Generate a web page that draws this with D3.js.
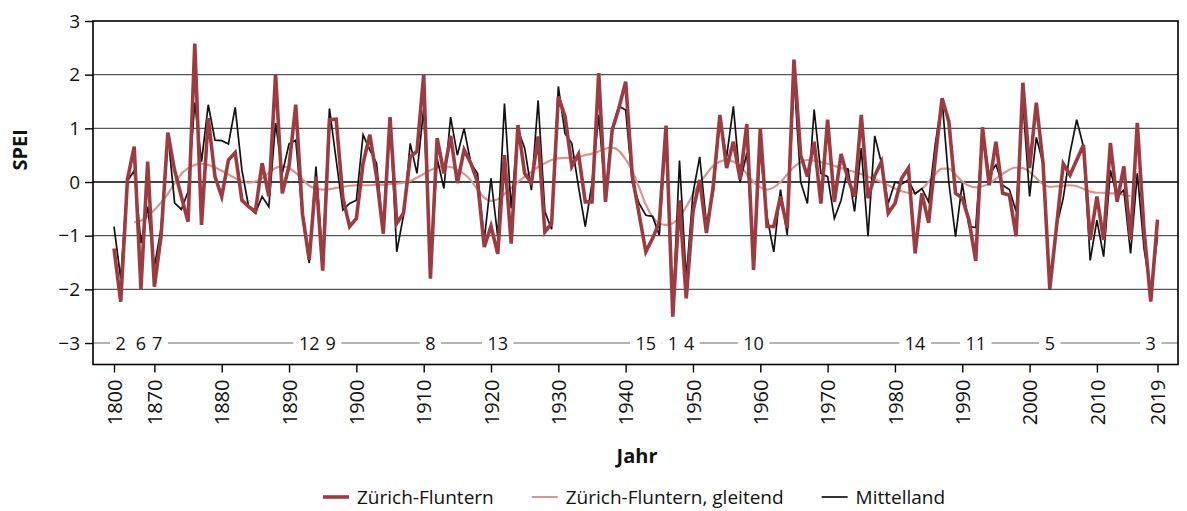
<!DOCTYPE html>
<html>
<head>
<meta charset="utf-8">
<script src="https://cdn.jsdelivr.net/npm/d3@7/dist/d3.min.js"></script>
<style>
  html, body { margin: 0; padding: 0; background: #fff; }
  svg { display: block; font-family: "Open Sans", "Noto Sans", sans-serif; }
</style>
</head>
<body>
<svg id="chart" width="1187" height="511"></svg>
<script>
// ---------- DATA ----------
const firstYear = 1864;
const lastYear = 2019;

// SPEI Zürich-Fluntern, 1864–2019
const zurich = [
  -1.24, -2.23, 0.05, 0.66, -1.99, 0.38, -1.95, -1.00, 0.92, 0.22,   // 1864-1873
  -0.27, -0.74, 2.58, -0.80, 1.19, 0.10, -0.27, 0.41, 0.55, -0.34,    // 1874-1883
  -0.46, -0.55, 0.35, -0.27, 2.01, -0.21, 0.30, 1.44, -0.60, -1.45,   // 1884-1893
  0.10, -1.65, 1.16, 1.17, -0.30, -0.83, -0.68, 0.35, 0.88, 0.10,     // 1894-1903
  -0.96, 1.21, -0.77, -0.58, 0.47, 0.57, 2.00, -1.80, 0.82, 0.16,     // 1904-1913
  0.86, -0.02, 0.60, 0.35, 0.00, -1.21, -0.82, -1.34, 0.50, -1.15,    // 1914-1923
  1.06, 0.16, -0.02, 0.85, -0.93, -0.77, 1.59, 1.22, 0.29, 0.52,      // 1924-1933
  -0.37, -0.37, 2.03, -0.37, 0.97, 1.38, 1.87, 0.10, -0.60, -1.30,    // 1934-1943
  -1.05, -0.75, 1.05, -2.51, -0.34, -2.17, -0.55, 0.04, -0.95, -0.09, // 1944-1953
  1.25, 0.26, 0.75, 0.05, 1.08, -1.64, 1.00, -0.83, -0.83, -0.27,     // 1954-1963
  -0.86, 2.28, 0.50, 0.10, 0.75, -0.40, 1.16, -0.37, 0.52, 0.07,      // 1964-1973
  -0.27, 1.25, -0.30, 0.12, 0.38, -0.58, -0.40, 0.07, 0.26, -1.33,    // 1974-1983
  -0.21, -0.76, 0.44, 1.56, 1.13, -0.21, -0.30, -0.71, -1.47, 1.02,   // 1984-1993
  -0.06, 0.75, -0.21, -0.24, -1.01, 1.85, 0.26, 1.48, 0.35, -1.99,    // 1994-2003
  -0.83, 0.34, 0.13, 0.41, 0.69, -1.08, -0.27, -1.08, 0.73, -0.37,    // 2004-2013
  0.29, -1.08, 1.10, -0.90, -2.23, -0.70                              // 2014-2019
];

// SPEI Mittelland, 1864–2019
const mittelland = [
  -0.83, -1.80, 0.02, 0.21, -1.14, -0.46, -1.58, -0.86, 0.91, -0.39,  // 1864-1873
  -0.51, -0.18, 1.48, 0.38, 1.44, 0.78, 0.77, 0.71, 1.39, 0.22,       // 1874-1883
  -0.46, -0.58, -0.27, -0.46, 1.10, 0.16, 0.71, 0.78, -0.65, -1.51,   // 1884-1893
  0.29, -1.48, 1.37, 0.41, -0.52, -0.40, -0.34, 0.88, 0.60, 0.35,     // 1894-1903
  -0.96, 1.21, -1.30, -0.62, 0.72, 0.16, 1.37, -1.64, 0.44, -0.12,    // 1904-1913
  1.21, 0.50, 1.00, 0.35, 0.16, -1.08, 0.07, -1.02, 1.46, -0.49,      // 1914-1923
  0.98, 0.63, -0.15, 1.52, -0.55, -0.88, 1.78, 0.90, 0.72, -0.09,     // 1924-1933
  -0.83, -0.02, 1.25, -0.27, 1.00, 1.41, 1.34, -0.02, -0.40, -0.62,   // 1934-1943
  -0.64, -0.99, 0.95, -2.39, 0.40, -1.80, -0.21, 0.47, -0.77, -0.21,  // 1944-1953
  1.16, 0.47, 1.41, 0.00, 0.54, -1.39, 0.60, -0.65, -1.30, -0.14,     // 1954-1963
  -0.99, 1.97, 0.00, -0.40, 1.35, 0.16, 0.10, -0.68, -0.34, 0.26,     // 1964-1973
  -0.55, 0.63, -1.01, 0.86, 0.35, -0.40, 0.00, -0.04, 0.04, -0.22,    // 1974-1983
  -0.12, -0.37, 0.72, 1.53, 0.00, -1.02, -0.02, -0.83, -0.85, 0.94,   // 1984-1993
  0.13, 0.32, -0.06, -0.14, -0.55, 1.50, -0.27, 0.83, 0.35, -2.00,    // 1994-2003
  -0.83, -0.30, 0.54, 1.16, 0.66, -1.46, -0.71, -1.39, 0.22, -0.27,   // 2004-2013
  -0.15, -1.33, 0.16, -1.24, -2.05, -1.02                             // 2014-2019
];

// Zürich-Fluntern, gleitend (smoothed), 1867–2015
const smoothFirstYear = 1867;
const zurichSmooth = [
  -0.75, -0.72, -0.64, -0.52, -0.38, -0.22, -0.02, 0.15, 0.26, 0.32,  // 1867-1876
  0.34, 0.32, 0.27, 0.21, 0.14, 0.07, 0.02, -0.01, 0.01, 0.07,        // 1877-1886
  0.17, 0.26, 0.29, 0.26, 0.17, 0.05, -0.07, -0.12, -0.14, -0.13,     // 1887-1896
  -0.11, -0.09, -0.07, -0.06, -0.06, -0.06, -0.05, -0.05, -0.04, -0.03, // 1897-1906
  -0.01, 0.02, 0.08, 0.15, 0.22, 0.27, 0.29, 0.28, 0.23, 0.15,        // 1907-1916
  0.03, -0.14, -0.29, -0.35, -0.32, -0.22, -0.11, 0.00, 0.10, 0.19,   // 1917-1926
  0.28, 0.35, 0.41, 0.44, 0.45, 0.45, 0.47, 0.50, 0.53, 0.57,         // 1927-1936
  0.62, 0.64, 0.58, 0.42, 0.20, -0.10, -0.42, -0.65, -0.77, -0.80,    // 1937-1946
  -0.77, -0.65, -0.46, -0.23, -0.02, 0.15, 0.30, 0.38, 0.41, 0.38,    // 1947-1956
  0.30, 0.15, 0.00, -0.10, -0.14, -0.10, 0.00, 0.14, 0.28, 0.37,      // 1957-1966
  0.41, 0.40, 0.37, 0.34, 0.30, 0.26, 0.22, 0.19, 0.15, 0.10,         // 1967-1976
  0.05, 0.00, -0.06, -0.12, -0.17, -0.20, -0.20, -0.13, 0.00, 0.15,   // 1977-1986
  0.25, 0.25, 0.14, 0.01, -0.07, -0.10, -0.08, -0.03, 0.06, 0.15,     // 1987-1996
  0.23, 0.27, 0.26, 0.19, 0.07, -0.04, -0.09, -0.08, -0.07, -0.06,    // 1997-2006
  -0.08, -0.13, -0.18, -0.20, -0.20, -0.21, -0.22, -0.24, -0.26       // 2007-2015
];

// Ranked driest years (labels along the -3 line)
const rankYears  = [1865, 1868, 1870, 1893, 1895, 1911, 1921, 1943, 1947, 1949, 1959, 1983, 1992, 2003, 2018];
const rankLabels = ["2", "6", "7", "12", "9", "8", "13", "15", "1", "4", "10", "14", "11", "5", "3"];

// Axis ticks
const xTickYears  = [1864, 1870, 1880, 1890, 1900, 1910, 1920, 1930, 1940, 1950, 1960, 1970, 1980, 1990, 2000, 2010, 2019];
const xTickLabels = ["1800", "1870", "1880", "1890", "1900", "1910", "1920", "1930", "1940", "1950", "1960", "1970", "1980", "1990", "2000", "2010", "2019"];
const yTicks = [-3, -2, -1, 0, 1, 2, 3];

const seriesNames = ["Zürich-Fluntern", "Zürich-Fluntern, gleitend", "Mittelland"];
const colors = { zurich: "#9b3c43", smooth: "#d79690", mittel: "#111111" };

// ---------- LAYOUT ----------
const svg = d3.select("#chart");
const frame = { left: 93, right: 1178, top: 21, bottom: 364.5 };

const x = d3.scaleLinear().domain([firstYear, lastYear]).range([114, 1157.5]);
const y = d3.scaleLinear().domain([-3.4, 3]).range([frame.bottom, frame.top]);

const zData = zurich.map((v, i) => ({ year: firstYear + i, v }));
const mData = mittelland.map((v, i) => ({ year: firstYear + i, v }));
const sData = zurichSmooth.map((v, i) => ({ year: smoothFirstYear + i, v }));

// gridlines
const grid = svg.append("g");
grid.selectAll("line")
  .data(yTicks.filter(d => d !== 3 && d !== -3))
  .join("line")
  .attr("x1", frame.left).attr("x2", frame.right)
  .attr("y1", d => y(d)).attr("y2", d => y(d))
  .attr("stroke", d => d === 0 ? "#000" : "#555")
  .attr("stroke-width", d => d === 0 ? 1.6 : 1.3);

// -3 line with rank labels
svg.append("line")
  .attr("x1", frame.left).attr("x2", frame.right)
  .attr("y1", y(-3)).attr("y2", y(-3))
  .attr("stroke", "#6a6a6a").attr("stroke-width", 1.1);

// lines
const line = d3.line().x(d => x(d.year)).y(d => y(d.v));

svg.append("path").datum(sData)
  .attr("d", d3.line().curve(d3.curveMonotoneX).x(d => x(d.year)).y(d => y(d.v)))
  .attr("fill", "none").attr("stroke", colors.smooth).attr("stroke-width", 2.2);

svg.append("path").datum(mData)
  .attr("d", line)
  .attr("fill", "none").attr("stroke", colors.mittel).attr("stroke-width", 1.7)
  .attr("stroke-linejoin", "miter");

svg.append("path").datum(zData)
  .attr("d", line)
  .attr("fill", "none").attr("stroke", colors.zurich).attr("stroke-width", 3.6)
  .attr("stroke-linejoin", "miter");

// rank labels with white background, nudged apart if overlapping
const rankG = svg.append("g");
const rankItems = rankYears.map((yr, i) => ({ yr, label: rankLabels[i] }));
const texts = rankG.selectAll("text").data(rankItems).join("text")
  .attr("x", d => x(d.yr))
  .attr("y", y(-3))
  .attr("dy", "0.36em")
  .attr("text-anchor", "middle")
  .attr("font-size", 18)
  .attr("fill", "#111")
  .text(d => d.label);
let prevRight = -Infinity;
texts.each(function(d) {
  const w = this.getComputedTextLength();
  let cx = x(d.yr);
  if (cx - w / 2 < prevRight + 6) cx = prevRight + 6 + w / 2;
  d3.select(this).attr("x", cx);
  prevRight = cx + w / 2;
});
texts.each(function() {
  const b = this.getBBox();
  rankG.insert("rect", "text")
    .attr("x", b.x - 5.5).attr("y", b.y)
    .attr("width", b.width + 11).attr("height", b.height)
    .attr("fill", "#fff");
});

// frame
svg.append("rect")
  .attr("x", frame.left).attr("y", frame.top)
  .attr("width", frame.right - frame.left).attr("height", frame.bottom - frame.top)
  .attr("fill", "none").attr("stroke", "#000").attr("stroke-width", 1.6);

// y axis
const yAxis = svg.append("g")
  .attr("transform", `translate(${frame.left},0)`)
  .call(d3.axisLeft(y).tickValues(yTicks).tickSize(8).tickPadding(5).tickFormat(d3.format("d")));
yAxis.select(".domain").remove();
yAxis.selectAll(".tick line").attr("stroke", "#000").attr("stroke-width", 1.4);
yAxis.selectAll(".tick text").attr("font-size", 19).attr("fill", "#111")
  .attr("font-family", "'Open Sans', sans-serif");

// x axis
const xAxis = svg.append("g")
  .attr("transform", `translate(0,${frame.bottom})`)
  .call(d3.axisBottom(x).tickValues(xTickYears).tickSize(8)
    .tickFormat((d, i) => xTickLabels[i]));
xAxis.select(".domain").remove();
xAxis.selectAll(".tick line").attr("stroke", "#000").attr("stroke-width", 1.4);
xAxis.selectAll(".tick text")
  .attr("font-size", 20).attr("fill", "#111")
  .attr("font-family", "'Open Sans', sans-serif")
  .attr("transform", "rotate(-90)")
  .attr("x", -15).attr("y", 0).attr("dy", "0.36em")
  .style("text-anchor", "end");

// axis titles
svg.append("text")
  .attr("transform", `translate(27,${(y(1.1) + y(0.1)) / 2}) rotate(-90)`)
  .attr("text-anchor", "middle")
  .attr("font-size", 20).attr("font-weight", "bold").attr("fill", "#111")
  .text("SPEI");

svg.append("text")
  .attr("x", 637).attr("y", 463)
  .attr("text-anchor", "middle")
  .attr("font-size", 20).attr("font-weight", "bold").attr("fill", "#111")
  .text("Jahr");

// legend
const legendItems = [
  { name: seriesNames[0], color: colors.zurich, w: 3.6 },
  { name: seriesNames[1], color: colors.smooth, w: 2 },
  { name: seriesNames[2], color: colors.mittel, w: 1.7 }
];
const legend = svg.append("g").attr("transform", "translate(0,497)");
let lx = 323;
legendItems.forEach(item => {
  legend.append("line")
    .attr("x1", lx).attr("x2", lx + 26).attr("y1", 0).attr("y2", 0)
    .attr("stroke", item.color).attr("stroke-width", item.w);
  const t = legend.append("text")
    .attr("x", lx + 34).attr("y", 0).attr("dy", "0.35em")
    .attr("font-size", 19).attr("fill", "#111")
    .text(item.name);
  lx += 34 + t.node().getComputedTextLength() + 38;
});
</script>
</body>
</html>
